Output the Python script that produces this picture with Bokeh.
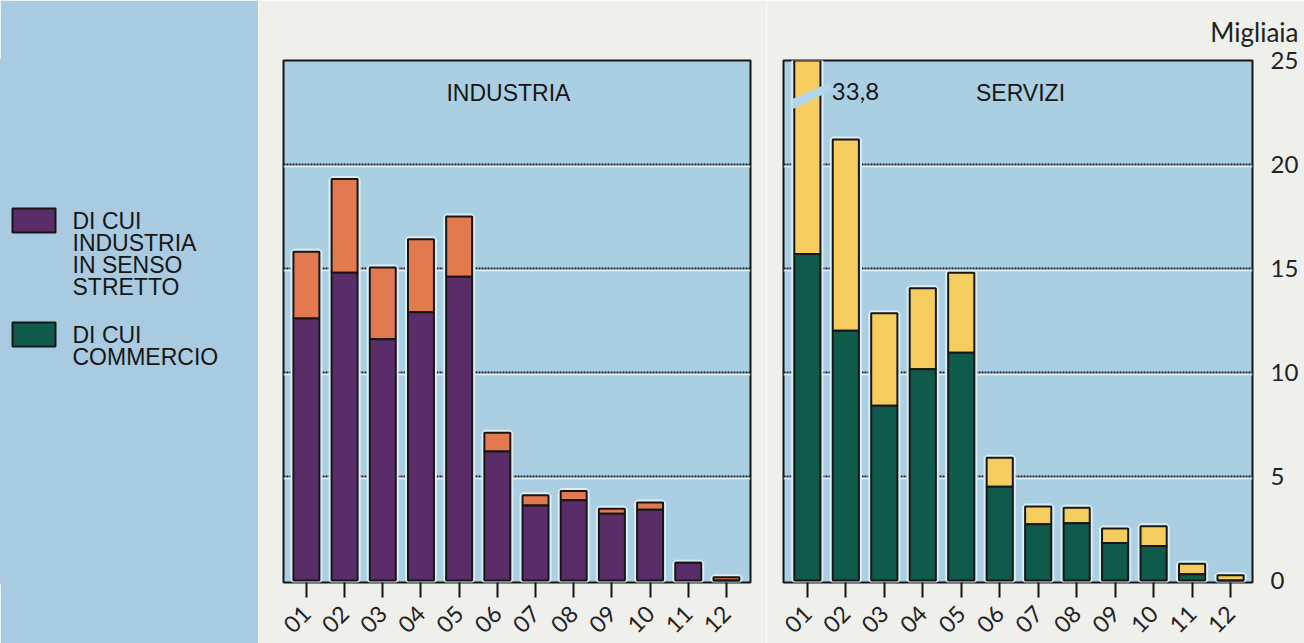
import math
from bokeh.plotting import figure
from bokeh.layouts import row
from bokeh.models import Range1d, FixedTicker, Label, Title, Span
from bokeh.embed import file_html
from bokeh.resources import INLINE
from bokeh.core.properties import value

# ---------------- data (thousands) ----------------
months = ["01", "02", "03", "04", "05", "06", "07", "08", "09", "10", "11", "12"]
xpos = list(range(1, 13))
industria_totale = [15.8, 19.3, 15.05, 16.4, 17.5, 7.1, 4.1, 4.3, 3.45, 3.75, 0.85, 0.15]
industria_senso_stretto = [12.6, 14.8, 11.6, 12.9, 14.6, 6.2, 3.6, 3.85, 3.2, 3.4, 0.85, 0.0]
servizi_totale = [33.8, 21.2, 12.85, 14.05, 14.8, 5.9, 3.55, 3.5, 2.5, 2.6, 0.8, 0.25]
servizi_commercio = [15.7, 12.0, 8.4, 10.15, 10.95, 4.5, 2.7, 2.75, 1.8, 1.65, 0.3, 0.0]
y_ticks = [0, 5, 10, 15, 20, 25]
grid_ticks = [5, 10, 15, 20]
legend_lines = [["DI CUI", "INDUSTRIA", "IN SENSO", "STRETTO"], ["DI CUI", "COMMERCIO"]]

# ---------------- styles ----------------
STRIP = "#a9cbe1"
PANEL = "#aacfe3"
PAGE = "#efefec"
PURPLE = "#5a2d69"
ORANGE = "#e2794f"
GREEN = "#0f5a4b"
YELLOW = "#f4cd5e"
HALO = "#dcedf5"
INK = "#161616"
H = 643
TOP, BOTTOM = 60, 61
BW = 0.68
YMAX = 25.0


def panel(width, x_range, border_left, border_right, right_axis):
    p = figure(width=width, height=H, output_backend="svg", toolbar_location=None,
               x_range=x_range, y_range=Range1d(-0.1, YMAX),
               y_axis_location="right" if right_axis else None,
               min_border_left=border_left, min_border_right=border_right,
               min_border_top=TOP, min_border_bottom=BOTTOM)
    p.background_fill_color = PANEL
    p.border_fill_color = PAGE
    p.outline_line_color = INK
    p.outline_line_width = 2
    p.xgrid.grid_line_color = None
    p.ygrid.ticker = FixedTicker(ticks=grid_ticks)
    p.ygrid.grid_line_color = "#14202f"
    p.ygrid.grid_line_dash = "2 1"
    p.ygrid.grid_line_width = 2
    p.ygrid.grid_line_alpha = 1.0
    for t in grid_ticks:
        p.add_layout(Span(location=t - 0.1, dimension="width", line_color="#e4f1f7",
                          line_width=1.5, level="underlay"))
    ax = p.xaxis[0]
    ax.ticker = FixedTicker(ticks=xpos)
    ax.major_label_overrides = {x: m for x, m in zip(xpos, months)}
    ax.axis_line_color = None
    ax.major_tick_in = 0
    ax.major_tick_out = 15
    ax.major_tick_line_color = INK
    ax.major_tick_line_width = 2
    ax.minor_tick_line_color = None
    ax.major_label_orientation = math.pi / 4
    ax.major_label_standoff = 12
    ax.major_label_text_font = "Lato"
    ax.major_label_text_font_size = "23px"
    ax.major_label_text_color = "#222222"
    if right_axis:
        ay = p.yaxis[0]
        ay.ticker = FixedTicker(ticks=y_ticks)
        ay.axis_line_color = None
        ay.major_tick_in = 0
        ay.major_tick_out = 0
        ay.minor_tick_line_color = None
        ay.major_label_standoff = 18
        ay.major_label_text_font = "Lato"
        ay.major_label_text_font_size = "24px"
        ay.major_label_text_color = "#222222"
    return p


def bars(p, total, lower, c_low, c_up):
    p.vbar(x=xpos, top=total, bottom=0, width=BW, fill_color=None,
           line_color=HALO, line_width=6)
    p.vbar(x=xpos, top=total, bottom=lower, width=BW, fill_color=c_up,
           line_color=INK, line_width=2)
    p.vbar(x=xpos, top=lower, bottom=0, width=BW, fill_color=c_low,
           line_color=INK, line_width=2)


def title(p, text, x, y, font="Liberation Sans", size="23px"):
    p.add_layout(Label(x=x, y=y, text=text, text_align="center", text_baseline="middle",
                       text_font=font, text_font_size=size, text_color=INK))


# ---------------- legend strip ----------------
leg = figure(width=258, height=H, output_backend="svg", toolbar_location=None,
             x_range=Range1d(0, 258), y_range=Range1d(582, 60),
             x_axis_location=None, y_axis_location=None,
             min_border_left=0, min_border_right=0,
             min_border_top=TOP, min_border_bottom=BOTTOM)
leg.background_fill_color = STRIP
leg.border_fill_color = STRIP
leg.outline_line_color = STRIP
leg.outline_line_width = 3
leg.grid.grid_line_color = None
sw_top = [208, 322]
sw_col = [PURPLE, GREEN]
leg.quad(left=[12, 12], right=[55, 55], top=sw_top, bottom=[t + 24 for t in sw_top],
         fill_color=sw_col, line_color=INK, line_width=2)
for top, lines in zip(sw_top, legend_lines):
    ys = [top + 12 + 22.3 * i for i in range(len(lines))]
    leg.text(x=[72] * len(lines), y=ys, text=lines, text_font=value("Liberation Sans"),
             text_font_size="23px", text_baseline="middle", text_align="left",
             text_color=INK)

# ---------------- INDUSTRIA ----------------
pa = panel(508, Range1d(0.40, 12.63), 25, 16, False)
bars(pa, industria_totale, industria_senso_stretto, PURPLE, ORANGE)
title(pa, "INDUSTRIA", 6.29, 23.45)

# ---------------- SERVIZI ----------------
pb = panel(538, Range1d(0.38, 12.57), 17, 52, True)
bars(pb, servizi_totale, servizi_commercio, GREEN, YELLOW)
# break mark on the off-scale bar
x0 = xpos[0]
half = BW / 2
pb.patch(x=[x0 - half - 0.05, x0 + half, x0 + half + 0.26, x0 + half + 0.26, x0 + half, x0 - half - 0.05],
         y=[22.65, 23.3, 23.55, 23.9, 23.75, 23.15],
         fill_color="#b3d5e8", line_color=None)
title(pb, f"{servizi_totale[0]:.1f}".replace(".", ","), 2.25, 23.5, font="Lato", size="24px")
title(pb, "SERVIZI", 6.54, 23.45)
pb.add_layout(Title(text="Migliaia", align="right", offset=-46, standoff=25,
                    text_font="Lato", text_font_size="26px", text_font_style="normal",
                    text_color="#222222"), "above")

layout = row(leg, pa, pb)
open("out.html", "w").write(file_html(layout, INLINE))
